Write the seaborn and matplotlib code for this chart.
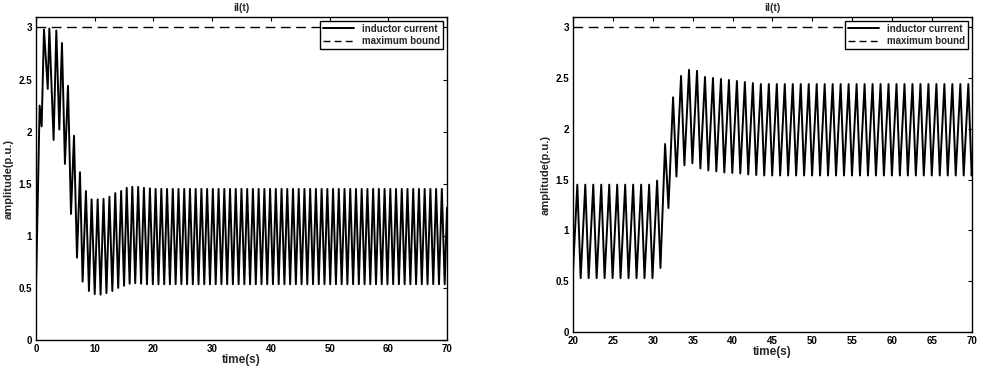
import numpy as np
import pandas as pd
import matplotlib
matplotlib.use("Agg")
import matplotlib.pyplot as plt
import seaborn as sns

# ---------------- data ----------------
# Left panel: transient vertices (time, amplitude)
left_t_transient = [0.0, 0.62, 0.96, 1.36, 2.0, 2.27, 3.0, 3.46, 3.97, 4.42, 4.93,
                    5.45, 5.96, 6.47, 6.98, 7.49, 7.94, 8.5, 9.02, 9.47, 10.0,
                    10.5, 11.0, 11.5, 12.0, 12.5, 13.0, 13.5, 14.0, 14.5, 15.0,
                    15.45, 15.95, 16.4, 16.9, 17.4, 17.9, 18.38, 18.9, 19.4, 19.9]
left_y_transient = [0.50, 2.25, 2.05, 2.98, 2.41, 2.99, 1.92, 2.97, 2.02, 2.85, 1.69,
                    2.44, 1.21, 1.96, 0.79, 1.61, 0.56, 1.43, 0.47, 1.35, 0.44,
                    1.35, 0.435, 1.355, 0.45, 1.375, 0.47, 1.41, 0.50, 1.43, 0.52,
                    1.46, 0.54, 1.47, 0.545, 1.47, 0.54, 1.46, 0.535, 1.455, 0.535]
# Left panel: steady oscillation (first peak time, period, peak / trough values)
left_steady_start = 20.37
left_period = 0.975
left_fall = 0.4875
left_steady_peaks = [1.45, 1.45, 1.45, 1.45, 1.45, 1.45, 1.45, 1.45, 1.45, 1.45,
                     1.45, 1.45, 1.45, 1.45, 1.45, 1.45, 1.45, 1.45, 1.45, 1.45,
                     1.45, 1.45, 1.45, 1.45, 1.45, 1.45, 1.45, 1.45, 1.45, 1.45,
                     1.45, 1.45, 1.45, 1.45, 1.45, 1.45, 1.45, 1.45, 1.45, 1.45,
                     1.45, 1.45, 1.45, 1.45, 1.45, 1.45, 1.45, 1.45, 1.45, 1.45,
                     1.45]
left_steady_troughs = [0.535, 0.535, 0.535, 0.535, 0.535, 0.535, 0.535, 0.535, 0.535, 0.535,
                       0.535, 0.535, 0.535, 0.535, 0.535, 0.535, 0.535, 0.535, 0.535, 0.535,
                       0.535, 0.535, 0.535, 0.535, 0.535, 0.535, 0.535, 0.535, 0.535, 0.535,
                       0.535, 0.535, 0.535, 0.535, 0.535, 0.535, 0.535, 0.535, 0.535, 0.535,
                       0.535, 0.535, 0.535, 0.535, 0.535, 0.535, 0.535, 0.535, 0.535, 0.535,
                       0.535]
left_end = (70.0, 1.27)

# Right panel
right_start = (20.0, 0.60)
right_period = 1.0
right_fall = 0.42
right_first_peak = 20.54
right_peaks = [1.45, 1.45, 1.45, 1.45, 1.45, 1.45, 1.45, 1.45, 1.45, 1.45,
               1.49, 1.85, 2.31, 2.52, 2.58, 2.57, 2.51, 2.50, 2.49, 2.48,
               2.47, 2.46, 2.45, 2.44, 2.44, 2.44, 2.44, 2.44, 2.44, 2.44,
               2.44, 2.44, 2.44, 2.44, 2.44, 2.44, 2.44, 2.44, 2.44, 2.44,
               2.44, 2.44, 2.44, 2.44, 2.44, 2.44, 2.44, 2.44, 2.44, 2.44]
right_troughs = [0.53, 0.53, 0.53, 0.53, 0.53, 0.53, 0.53, 0.53, 0.53, 0.53,
                 0.63, 1.22, 1.53, 1.64, 1.66, 1.61, 1.59, 1.58, 1.57, 1.565,
                 1.56, 1.55, 1.545, 1.54, 1.54, 1.54, 1.54, 1.54, 1.54, 1.54,
                 1.54, 1.54, 1.54, 1.54, 1.54, 1.54, 1.54, 1.54, 1.54, 1.54,
                 1.54, 1.54, 1.54, 1.54, 1.54, 1.54, 1.54, 1.54, 1.54, 1.54]
right_end = (70.0, 1.60)

max_bound = 3.0
titles = ["il(t)", "il(t)"]
xlabel = "time(s)"
ylabel = "amplitude(p.u.)"
legend_labels = ["inductor current", "maximum bound"]
yticks = [0, 0.5, 1, 1.5, 2, 2.5, 3]
ytick_labels = ["0", "0.5", "1", "1.5", "2", "2.5", "3"]
left_xticks = [0, 10, 20, 30, 40, 50, 60, 70]
right_xticks = [20, 25, 30, 35, 40, 45, 50, 55, 60, 65, 70]


def interleave(first_peak, period, fall, peaks, troughs):
    t, y = [], []
    for i, (p, q) in enumerate(zip(peaks, troughs)):
        tp = first_peak + i * period
        t += [tp, tp + fall]
        y += [p, q]
    return t, y


lt, ly = interleave(left_steady_start, left_period, left_fall,
                    left_steady_peaks, left_steady_troughs)
left_t = left_t_transient + lt + [left_end[0]]
left_y = left_y_transient + ly + [left_end[1]]

rt, ry = interleave(right_first_peak, right_period, right_fall, right_peaks, right_troughs)
right_t = [right_start[0]] + rt + [right_end[0]]
right_y = [right_start[1]] + ry + [right_end[1]]

df_left = pd.DataFrame({"time": left_t, "amp": left_y})
df_right = pd.DataFrame({"time": right_t, "amp": right_y})

# ---------------- plotting ----------------
sns.set_style("white")
plt.rcParams["font.family"] = ["Liberation Sans", "DejaVu Sans"]
plt.rcParams["font.weight"] = "bold"

fig = plt.figure(figsize=(9.87, 3.70), dpi=100)
ax1 = fig.add_axes([36 / 987, 1 - 340 / 370, 411 / 987, 323 / 370])
ax2 = fig.add_axes([573 / 987, 1 - 332 / 370, 399 / 987, 315 / 370])

panels = [(ax1, df_left, (0, 70), left_xticks), (ax2, df_right, (20, 70), right_xticks)]
for k, (ax, df, xlim, xt) in enumerate(panels):
    sns.lineplot(data=df, x="time", y="amp", ax=ax, color="black", lw=1.4,
                 estimator=None, sort=False, label=legend_labels[0])
    bound = pd.DataFrame({"time": [xlim[0], xlim[1]], "amp": [max_bound, max_bound]})
    sns.lineplot(data=bound, x="time", y="amp", ax=ax, color="black", lw=1.0,
                 estimator=None, label=legend_labels[1], dashes=False)
    ax.lines[-1].set_dashes((7, 4))
    ax.set_xlim(*xlim)
    ax.set_ylim(0, 3.1)
    ax.set_xticks(xt)
    ax.set_xticklabels([str(v) for v in xt])
    ax.set_yticks(yticks)
    ax.set_yticklabels(ytick_labels)
    ax.tick_params(direction="in", length=3, width=0.8, top=True, right=True,
                   labelsize=7, colors="black")
    ax.tick_params(axis="x", pad=3)
    ax.tick_params(axis="y", pad=3)
    for lab in ax.get_xticklabels() + ax.get_yticklabels():
        lab.set_fontweight("bold")
    for s in ax.spines.values():
        s.set_color("black")
        s.set_linewidth(1.0)
    ax.set_title(titles[k], fontsize=7.5, fontweight="bold", pad=4)
    ax.set_xlabel(xlabel, fontsize=8.5, fontweight="bold", labelpad=0)
    ax.set_ylabel(ylabel, fontsize=8, fontweight="bold", labelpad=3)
    leg = ax.legend(loc="upper right", fontsize=7, frameon=True, fancybox=False,
                    handlelength=3.2, borderaxespad=0.4, borderpad=0.3,
                    labelspacing=0.25, handletextpad=0.8)
    leg.get_frame().set_edgecolor("black")
    leg.get_frame().set_linewidth(1.0)
    leg.get_frame().set_alpha(1)
    leg.get_lines()[1].set_dashes((5, 3))
    for txt in leg.get_texts():
        txt.set_fontweight("bold")

fig.savefig("out.png", dpi=100, facecolor="white")
